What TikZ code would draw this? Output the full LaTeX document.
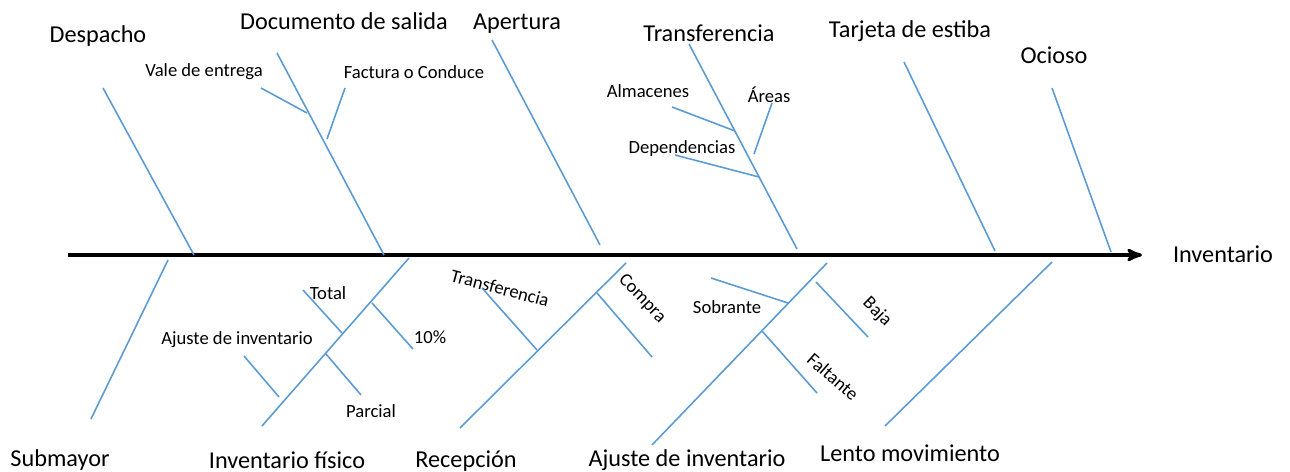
\documentclass[tikz,border=0pt]{standalone}
\usepackage{fontspec}
\setmainfont{Carlito}
\usetikzlibrary{
  positioning,
  arrows
}
\definecolor{bonecolor}{RGB}{91,155,213}
\tikzset{
  >=stealth',
  spine/.style={->, line width=1.8pt, black},
  bone/.style={draw=bonecolor, line width=0.9pt},
  cause/.style={font=\fontsize{13.8}{16}\selectfont, inner sep=1pt},
  subcause/.style={font=\fontsize{10.6}{12}\selectfont, inner sep=1pt}
}

\begin{document}
\begin{tikzpicture}[x=0.02cm, y=-0.02cm]
    \useasboundingbox (0,0) rectangle (1290,472);
    % spine
    \coordinate (tail) at (68,255);
    \coordinate (head) at (1142,255);
    \node[cause] (inv) at (1223,254) {Inventario};
    \draw[spine] (tail) -- (head);

    % upper causes
    \node[cause] (despacho) at (98,36) {Despacho};
    \coordinate (despacho-a) at (103,88);
    \coordinate (despacho-b) at (194,255);
    \draw[bone] (despacho-a) -- (despacho-b);

    \node[cause] (docsal) at (344,21) {Documento de salida};
    \coordinate (docsal-a) at (277,53);
    \coordinate (docsal-b) at (384,255);
    \draw[bone] (docsal-a) -- (docsal-b);
    \node[subcause] (vale) at (204,72) {Vale de entrega};
    \coordinate (vale-a) at (261,88);
    \coordinate (vale-b) at (307,113);
    \draw[bone] (vale-a) -- (vale-b);
    \node[subcause] (factura) at (414,72) {Factura o Conduce};
    \coordinate (factura-a) at (345,88);
    \coordinate (factura-b) at (327,139);
    \draw[bone] (factura-a) -- (factura-b);

    \node[cause] (apertura) at (517,24) {Apertura};
    \coordinate (apertura-a) at (492,40);
    \coordinate (apertura-b) at (600,245);
    \draw[bone] (apertura-a) -- (apertura-b);

    \node[cause] (transf) at (709,33) {Transferencia};
    \coordinate (transf-a) at (689,44);
    \coordinate (transf-b) at (797,249);
    \draw[bone] (transf-a) -- (transf-b);
    \node[subcause] (almacenes) at (648,91) {Almacenes};
    \coordinate (almacenes-a) at (672,107);
    \coordinate (almacenes-b) at (735,131);
    \draw[bone] (almacenes-a) -- (almacenes-b);
    \node[subcause] (areas) at (769,95) {Áreas};
    \coordinate (areas-a) at (772,103);
    \coordinate (areas-b) at (754,154);
    \draw[bone] (areas-a) -- (areas-b);
    \node[subcause] (dependencias) at (682,149) {Dependencias};
    \coordinate (dependencias-a) at (675,155);
    \coordinate (dependencias-b) at (759,177);
    \draw[bone] (dependencias-a) -- (dependencias-b);

    \node[cause] (tarjeta) at (910,31) {Tarjeta de estiba};
    \coordinate (tarjeta-a) at (904,62);
    \coordinate (tarjeta-b) at (995,251);
    \draw[bone] (tarjeta-a) -- (tarjeta-b);

    \node[cause] (ocioso) at (1054,55) {Ocioso};
    \coordinate (ocioso-a) at (1052,88);
    \coordinate (ocioso-b) at (1111,252);
    \draw[bone] (ocioso-a) -- (ocioso-b);

    % lower causes
    \node[cause] (submayor) at (60,460) {Submayor};
    \coordinate (submayor-a) at (168,260);
    \coordinate (submayor-b) at (91,419);
    \draw[bone] (submayor-a) -- (submayor-b);

    \node[cause] (invfis) at (287,460) {Inventario físico};
    \coordinate (invfis-a) at (409,258);
    \coordinate (invfis-b) at (262,426);
    \draw[bone] (invfis-a) -- (invfis-b);
    \node[subcause] (total) at (328,293) {Total};
    \coordinate (total-a) at (303,290);
    \coordinate (total-b) at (342,333);
    \draw[bone] (total-a) -- (total-b);
    \node[subcause] (diez) at (430,337) {10\%};
    \coordinate (diez-a) at (372,303);
    \coordinate (diez-b) at (413,349);
    \draw[bone] (diez-a) -- (diez-b);
    \node[subcause] (ajustesub) at (237,340) {Ajuste de inventario};
    \coordinate (ajustesub-a) at (244,356);
    \coordinate (ajustesub-b) at (279,397);
    \draw[bone] (ajustesub-a) -- (ajustesub-b);
    \node[subcause] (parcial) at (371,411) {Parcial};
    \coordinate (parcial-a) at (326,354);
    \coordinate (parcial-b) at (361,395);
    \draw[bone] (parcial-a) -- (parcial-b);

    \node[cause] (recepcion) at (466,461) {Recepción};
    \coordinate (recepcion-a) at (626,263);
    \coordinate (recepcion-b) at (460,428);
    \draw[bone] (recepcion-a) -- (recepcion-b);
    \node[subcause, rotate=-15] (transfsub) at (500,288) {Transferencia};
    \coordinate (transfsub-a) at (482,288);
    \coordinate (transfsub-b) at (537,350);
    \draw[bone] (transfsub-a) -- (transfsub-b);
    \node[subcause, rotate=-46] (compra) at (642,299) {Compra};
    \coordinate (compra-a) at (597,293);
    \coordinate (compra-b) at (652,357);
    \draw[bone] (compra-a) -- (compra-b);

    \node[cause] (ajuste) at (687,460) {Ajuste de inventario};
    \coordinate (ajuste-a) at (827,263);
    \coordinate (ajuste-b) at (652,445);
    \draw[bone] (ajuste-a) -- (ajuste-b);
    \node[subcause] (sobrante) at (727,307) {Sobrante};
    \coordinate (sobrante-a) at (711,278);
    \coordinate (sobrante-b) at (788,303);
    \draw[bone] (sobrante-a) -- (sobrante-b);
    \node[subcause, rotate=-41] (faltante) at (833,377) {Faltante};
    \coordinate (faltante-a) at (762,331);
    \coordinate (faltante-b) at (817,393);
    \draw[bone] (faltante-a) -- (faltante-b);
    \node[subcause, rotate=-45] (baja) at (877,312) {Baja};
    \coordinate (baja-a) at (816,282);
    \coordinate (baja-b) at (868,337);
    \draw[bone] (baja-a) -- (baja-b);

    \node[cause] (lento) at (910,453) {Lento movimiento};
    \coordinate (lento-a) at (1052,262);
    \coordinate (lento-b) at (885,426);
    \draw[bone] (lento-a) -- (lento-b);
\end{tikzpicture}
\end{document}
